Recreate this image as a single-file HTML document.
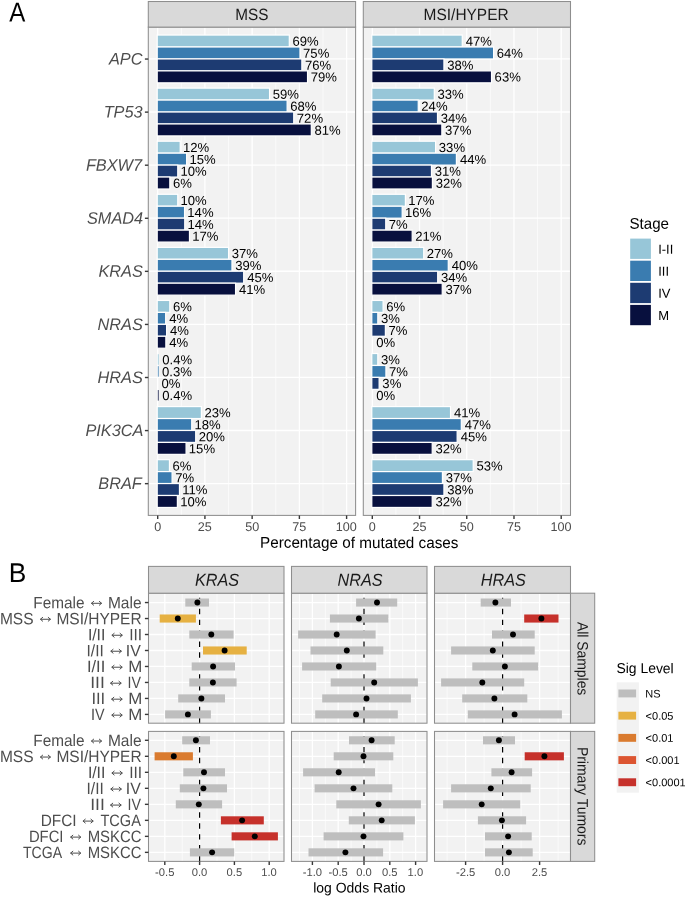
<!DOCTYPE html>
<html><head><meta charset="utf-8"><style>
html,body{margin:0;padding:0;background:#fff;overflow:hidden;}
svg{display:block;will-change:transform;text-rendering:geometricPrecision;font-family:'Liberation Sans',sans-serif;}
</style></head><body>
<svg width="685" height="897" viewBox="0 0 685 897">
<rect x="0" y="0" width="685" height="897" fill="#fff"/>
<text transform="rotate(0.05 9.30 21.50)" x="9.30" y="21.50" font-size="27.30" fill="#000" textLength="16.05" lengthAdjust="spacingAndGlyphs">A</text>
<rect x="148.30" y="27.10" width="207.30" height="488.30" fill="#f2f2f2" />
<line x1="181.31" y1="27.10" x2="181.31" y2="515.40" stroke="#fff" stroke-width="0.65" />
<line x1="228.54" y1="27.10" x2="228.54" y2="515.40" stroke="#fff" stroke-width="0.65" />
<line x1="275.76" y1="27.10" x2="275.76" y2="515.40" stroke="#fff" stroke-width="0.65" />
<line x1="322.99" y1="27.10" x2="322.99" y2="515.40" stroke="#fff" stroke-width="0.65" />
<line x1="157.70" y1="27.10" x2="157.70" y2="515.40" stroke="#fff" stroke-width="1.3" />
<line x1="204.92" y1="27.10" x2="204.92" y2="515.40" stroke="#fff" stroke-width="1.3" />
<line x1="252.15" y1="27.10" x2="252.15" y2="515.40" stroke="#fff" stroke-width="1.3" />
<line x1="299.38" y1="27.10" x2="299.38" y2="515.40" stroke="#fff" stroke-width="1.3" />
<line x1="346.60" y1="27.10" x2="346.60" y2="515.40" stroke="#fff" stroke-width="1.3" />
<line x1="148.30" y1="58.95" x2="355.60" y2="58.95" stroke="#fff" stroke-width="1.3" />
<line x1="148.30" y1="112.02" x2="355.60" y2="112.02" stroke="#fff" stroke-width="1.3" />
<line x1="148.30" y1="165.10" x2="355.60" y2="165.10" stroke="#fff" stroke-width="1.3" />
<line x1="148.30" y1="218.17" x2="355.60" y2="218.17" stroke="#fff" stroke-width="1.3" />
<line x1="148.30" y1="271.25" x2="355.60" y2="271.25" stroke="#fff" stroke-width="1.3" />
<line x1="148.30" y1="324.33" x2="355.60" y2="324.33" stroke="#fff" stroke-width="1.3" />
<line x1="148.30" y1="377.40" x2="355.60" y2="377.40" stroke="#fff" stroke-width="1.3" />
<line x1="148.30" y1="430.48" x2="355.60" y2="430.48" stroke="#fff" stroke-width="1.3" />
<line x1="148.30" y1="483.55" x2="355.60" y2="483.55" stroke="#fff" stroke-width="1.3" />
<rect x="157.20" y="35.06" width="132.10" height="11.94" fill="#97c6d8" stroke="#fff" stroke-width="1.2"/>
<text transform="rotate(0.05 292.40 45.78)" x="292.40" y="45.78" font-size="13.10" fill="#000" textLength="26.22" lengthAdjust="spacingAndGlyphs">69%</text>
<rect x="157.20" y="47.00" width="142.78" height="11.94" fill="#3a7cb0" stroke="#fff" stroke-width="1.2"/>
<text transform="rotate(0.05 303.07 57.72)" x="303.07" y="57.72" font-size="13.10" fill="#000" textLength="26.22" lengthAdjust="spacingAndGlyphs">75%</text>
<rect x="157.20" y="58.95" width="144.66" height="11.94" fill="#1d3b72" stroke="#fff" stroke-width="1.2"/>
<text transform="rotate(0.05 304.96 69.67)" x="304.96" y="69.67" font-size="13.10" fill="#000" textLength="26.22" lengthAdjust="spacingAndGlyphs">76%</text>
<rect x="157.20" y="70.89" width="150.33" height="11.94" fill="#08103e" stroke="#fff" stroke-width="1.2"/>
<text transform="rotate(0.05 310.63 81.61)" x="310.63" y="81.61" font-size="13.10" fill="#000" textLength="26.22" lengthAdjust="spacingAndGlyphs">79%</text>
<rect x="157.20" y="88.14" width="112.36" height="11.94" fill="#97c6d8" stroke="#fff" stroke-width="1.2"/>
<text transform="rotate(0.05 272.79 98.86)" x="272.79" y="98.86" font-size="13.10" fill="#000" textLength="26.22" lengthAdjust="spacingAndGlyphs">59%</text>
<rect x="157.20" y="100.08" width="129.93" height="11.94" fill="#3a7cb0" stroke="#fff" stroke-width="1.2"/>
<text transform="rotate(0.05 290.22 110.80)" x="290.22" y="110.80" font-size="13.10" fill="#000" textLength="26.22" lengthAdjust="spacingAndGlyphs">68%</text>
<rect x="157.20" y="112.02" width="136.54" height="11.94" fill="#1d3b72" stroke="#fff" stroke-width="1.2"/>
<text transform="rotate(0.05 296.84 122.74)" x="296.84" y="122.74" font-size="13.10" fill="#000" textLength="26.22" lengthAdjust="spacingAndGlyphs">72%</text>
<rect x="157.20" y="123.96" width="154.11" height="11.94" fill="#08103e" stroke="#fff" stroke-width="1.2"/>
<text transform="rotate(0.05 314.47 134.68)" x="314.47" y="134.68" font-size="13.10" fill="#000" textLength="26.22" lengthAdjust="spacingAndGlyphs">81%</text>
<rect x="157.20" y="141.21" width="23.01" height="11.94" fill="#97c6d8" stroke="#fff" stroke-width="1.2"/>
<text transform="rotate(0.05 182.98 151.93)" x="182.98" y="151.93" font-size="13.10" fill="#000" textLength="26.22" lengthAdjust="spacingAndGlyphs">12%</text>
<rect x="157.20" y="153.16" width="29.44" height="11.94" fill="#3a7cb0" stroke="#fff" stroke-width="1.2"/>
<text transform="rotate(0.05 189.40 163.88)" x="189.40" y="163.88" font-size="13.10" fill="#000" textLength="26.22" lengthAdjust="spacingAndGlyphs">15%</text>
<rect x="157.20" y="165.10" width="20.56" height="11.94" fill="#1d3b72" stroke="#fff" stroke-width="1.2"/>
<text transform="rotate(0.05 180.52 175.82)" x="180.52" y="175.82" font-size="13.10" fill="#000" textLength="26.22" lengthAdjust="spacingAndGlyphs">10%</text>
<rect x="157.20" y="177.04" width="12.62" height="11.94" fill="#08103e" stroke="#fff" stroke-width="1.2"/>
<text transform="rotate(0.05 172.92 187.76)" x="172.92" y="187.76" font-size="13.10" fill="#000" textLength="18.93" lengthAdjust="spacingAndGlyphs">6%</text>
<rect x="157.20" y="194.29" width="20.56" height="11.94" fill="#97c6d8" stroke="#fff" stroke-width="1.2"/>
<text transform="rotate(0.05 180.52 205.01)" x="180.52" y="205.01" font-size="13.10" fill="#000" textLength="26.22" lengthAdjust="spacingAndGlyphs">10%</text>
<rect x="157.20" y="206.23" width="27.36" height="11.94" fill="#3a7cb0" stroke="#fff" stroke-width="1.2"/>
<text transform="rotate(0.05 187.32 216.95)" x="187.32" y="216.95" font-size="13.10" fill="#000" textLength="26.22" lengthAdjust="spacingAndGlyphs">14%</text>
<rect x="157.20" y="218.17" width="27.55" height="11.94" fill="#1d3b72" stroke="#fff" stroke-width="1.2"/>
<text transform="rotate(0.05 187.51 228.89)" x="187.51" y="228.89" font-size="13.10" fill="#000" textLength="26.22" lengthAdjust="spacingAndGlyphs">14%</text>
<rect x="157.20" y="230.12" width="32.27" height="11.94" fill="#08103e" stroke="#fff" stroke-width="1.2"/>
<text transform="rotate(0.05 192.24 240.84)" x="192.24" y="240.84" font-size="13.10" fill="#000" textLength="26.22" lengthAdjust="spacingAndGlyphs">17%</text>
<rect x="157.20" y="247.37" width="71.37" height="11.94" fill="#97c6d8" stroke="#fff" stroke-width="1.2"/>
<text transform="rotate(0.05 231.80 258.09)" x="231.80" y="258.09" font-size="13.10" fill="#000" textLength="26.22" lengthAdjust="spacingAndGlyphs">37%</text>
<rect x="157.20" y="259.31" width="74.77" height="11.94" fill="#3a7cb0" stroke="#fff" stroke-width="1.2"/>
<text transform="rotate(0.05 235.20 270.03)" x="235.20" y="270.03" font-size="13.10" fill="#000" textLength="26.22" lengthAdjust="spacingAndGlyphs">39%</text>
<rect x="157.20" y="271.25" width="86.48" height="11.94" fill="#1d3b72" stroke="#fff" stroke-width="1.2"/>
<text transform="rotate(0.05 247.17 281.97)" x="247.17" y="281.97" font-size="13.10" fill="#000" textLength="26.22" lengthAdjust="spacingAndGlyphs">45%</text>
<rect x="157.20" y="283.19" width="78.36" height="11.94" fill="#08103e" stroke="#fff" stroke-width="1.2"/>
<text transform="rotate(0.05 239.05 293.91)" x="239.05" y="293.91" font-size="13.10" fill="#000" textLength="26.22" lengthAdjust="spacingAndGlyphs">41%</text>
<rect x="157.20" y="300.44" width="12.62" height="11.94" fill="#97c6d8" stroke="#fff" stroke-width="1.2"/>
<text transform="rotate(0.05 172.92 311.16)" x="172.92" y="311.16" font-size="13.10" fill="#000" textLength="18.93" lengthAdjust="spacingAndGlyphs">6%</text>
<rect x="157.20" y="312.38" width="8.47" height="11.94" fill="#3a7cb0" stroke="#fff" stroke-width="1.2"/>
<text transform="rotate(0.05 169.16 323.11)" x="169.16" y="323.11" font-size="13.10" fill="#000" textLength="18.93" lengthAdjust="spacingAndGlyphs">4%</text>
<rect x="157.20" y="324.33" width="9.41" height="11.94" fill="#1d3b72" stroke="#fff" stroke-width="1.2"/>
<text transform="rotate(0.05 170.10 335.05)" x="170.10" y="335.05" font-size="13.10" fill="#000" textLength="18.93" lengthAdjust="spacingAndGlyphs">4%</text>
<rect x="157.20" y="336.27" width="8.66" height="11.94" fill="#08103e" stroke="#fff" stroke-width="1.2"/>
<text transform="rotate(0.05 169.34 346.99)" x="169.34" y="346.99" font-size="13.10" fill="#000" textLength="18.93" lengthAdjust="spacingAndGlyphs">4%</text>
<rect x="157.80" y="354.22" width="1.00" height="10.54" fill="#97c6d8" opacity="0.75"/>
<text transform="rotate(0.05 162.28 364.24)" x="162.28" y="364.24" font-size="13.10" fill="#000" textLength="29.86" lengthAdjust="spacingAndGlyphs">0.4%</text>
<rect x="157.80" y="366.16" width="1.00" height="10.54" fill="#3a7cb0" opacity="0.75"/>
<text transform="rotate(0.05 162.09 376.18)" x="162.09" y="376.18" font-size="13.10" fill="#000" textLength="29.86" lengthAdjust="spacingAndGlyphs">0.3%</text>
<text transform="rotate(0.05 161.53 388.12)" x="161.53" y="388.12" font-size="13.10" fill="#000" textLength="18.93" lengthAdjust="spacingAndGlyphs">0%</text>
<rect x="157.80" y="390.04" width="1.00" height="10.54" fill="#08103e" opacity="0.75"/>
<text transform="rotate(0.05 162.28 400.07)" x="162.28" y="400.07" font-size="13.10" fill="#000" textLength="29.86" lengthAdjust="spacingAndGlyphs">0.4%</text>
<rect x="157.20" y="406.59" width="44.17" height="11.94" fill="#97c6d8" stroke="#fff" stroke-width="1.2"/>
<text transform="rotate(0.05 204.46 417.32)" x="204.46" y="417.32" font-size="13.10" fill="#000" textLength="26.22" lengthAdjust="spacingAndGlyphs">23%</text>
<rect x="157.20" y="418.54" width="34.54" height="11.94" fill="#3a7cb0" stroke="#fff" stroke-width="1.2"/>
<text transform="rotate(0.05 194.50 429.26)" x="194.50" y="429.26" font-size="13.10" fill="#000" textLength="26.22" lengthAdjust="spacingAndGlyphs">18%</text>
<rect x="157.20" y="430.48" width="38.50" height="11.94" fill="#1d3b72" stroke="#fff" stroke-width="1.2"/>
<text transform="rotate(0.05 198.80 441.20)" x="198.80" y="441.20" font-size="13.10" fill="#000" textLength="26.22" lengthAdjust="spacingAndGlyphs">20%</text>
<rect x="157.20" y="442.42" width="28.87" height="11.94" fill="#08103e" stroke="#fff" stroke-width="1.2"/>
<text transform="rotate(0.05 188.84 453.14)" x="188.84" y="453.14" font-size="13.10" fill="#000" textLength="26.22" lengthAdjust="spacingAndGlyphs">15%</text>
<rect x="157.20" y="459.67" width="12.25" height="11.94" fill="#97c6d8" stroke="#fff" stroke-width="1.2"/>
<text transform="rotate(0.05 172.54 470.39)" x="172.54" y="470.39" font-size="13.10" fill="#000" textLength="18.93" lengthAdjust="spacingAndGlyphs">6%</text>
<rect x="157.20" y="471.61" width="14.89" height="11.94" fill="#3a7cb0" stroke="#fff" stroke-width="1.2"/>
<text transform="rotate(0.05 175.18 482.33)" x="175.18" y="482.33" font-size="13.10" fill="#000" textLength="18.93" lengthAdjust="spacingAndGlyphs">7%</text>
<rect x="157.20" y="483.55" width="22.26" height="11.94" fill="#1d3b72" stroke="#fff" stroke-width="1.2"/>
<text transform="rotate(0.05 182.22 494.28)" x="182.22" y="494.28" font-size="13.10" fill="#000" textLength="25.25" lengthAdjust="spacingAndGlyphs">11%</text>
<rect x="157.20" y="495.50" width="20.18" height="11.94" fill="#08103e" stroke="#fff" stroke-width="1.2"/>
<text transform="rotate(0.05 180.15 506.22)" x="180.15" y="506.22" font-size="13.10" fill="#000" textLength="26.22" lengthAdjust="spacingAndGlyphs">10%</text>
<rect x="148.30" y="27.10" width="207.30" height="488.30" fill="none" stroke="#8e8e8e" stroke-width="1.05"/>
<rect x="148.30" y="1.5" width="207.30" height="25.60" fill="#d9d9d9" stroke="#8e8e8e" stroke-width="1.05"/>
<text transform="rotate(0.05 235.23 20.05)" x="235.23" y="20.05" font-size="16.32" fill="#1a1a1a" textLength="33.14" lengthAdjust="spacingAndGlyphs">MSS</text>
<line x1="157.70" y1="515.40" x2="157.70" y2="519.00" stroke="#383838" stroke-width="1.4" />
<text transform="rotate(0.05 154.17 531.00)" x="154.17" y="531.00" font-size="12.60" fill="#4d4d4d" textLength="7.01" lengthAdjust="spacingAndGlyphs">0</text>
<line x1="204.92" y1="515.40" x2="204.92" y2="519.00" stroke="#383838" stroke-width="1.4" />
<text transform="rotate(0.05 197.87 531.00)" x="197.87" y="531.00" font-size="12.60" fill="#4d4d4d" textLength="14.02" lengthAdjust="spacingAndGlyphs">25</text>
<line x1="252.15" y1="515.40" x2="252.15" y2="519.00" stroke="#383838" stroke-width="1.4" />
<text transform="rotate(0.05 245.13 531.00)" x="245.13" y="531.00" font-size="12.60" fill="#4d4d4d" textLength="14.02" lengthAdjust="spacingAndGlyphs">50</text>
<line x1="299.38" y1="515.40" x2="299.38" y2="519.00" stroke="#383838" stroke-width="1.4" />
<text transform="rotate(0.05 292.32 531.00)" x="292.32" y="531.00" font-size="12.60" fill="#4d4d4d" textLength="14.02" lengthAdjust="spacingAndGlyphs">75</text>
<line x1="346.60" y1="515.40" x2="346.60" y2="519.00" stroke="#383838" stroke-width="1.4" />
<text transform="rotate(0.05 335.86 531.00)" x="335.86" y="531.00" font-size="12.60" fill="#4d4d4d" textLength="21.02" lengthAdjust="spacingAndGlyphs">100</text>
<rect x="363.30" y="27.10" width="207.20" height="488.30" fill="#f2f2f2" />
<line x1="395.91" y1="27.10" x2="395.91" y2="515.40" stroke="#fff" stroke-width="0.65" />
<line x1="443.14" y1="27.10" x2="443.14" y2="515.40" stroke="#fff" stroke-width="0.65" />
<line x1="490.36" y1="27.10" x2="490.36" y2="515.40" stroke="#fff" stroke-width="0.65" />
<line x1="537.59" y1="27.10" x2="537.59" y2="515.40" stroke="#fff" stroke-width="0.65" />
<line x1="372.30" y1="27.10" x2="372.30" y2="515.40" stroke="#fff" stroke-width="1.3" />
<line x1="419.53" y1="27.10" x2="419.53" y2="515.40" stroke="#fff" stroke-width="1.3" />
<line x1="466.75" y1="27.10" x2="466.75" y2="515.40" stroke="#fff" stroke-width="1.3" />
<line x1="513.98" y1="27.10" x2="513.98" y2="515.40" stroke="#fff" stroke-width="1.3" />
<line x1="561.20" y1="27.10" x2="561.20" y2="515.40" stroke="#fff" stroke-width="1.3" />
<line x1="363.30" y1="58.95" x2="570.50" y2="58.95" stroke="#fff" stroke-width="1.3" />
<line x1="363.30" y1="112.02" x2="570.50" y2="112.02" stroke="#fff" stroke-width="1.3" />
<line x1="363.30" y1="165.10" x2="570.50" y2="165.10" stroke="#fff" stroke-width="1.3" />
<line x1="363.30" y1="218.17" x2="570.50" y2="218.17" stroke="#fff" stroke-width="1.3" />
<line x1="363.30" y1="271.25" x2="570.50" y2="271.25" stroke="#fff" stroke-width="1.3" />
<line x1="363.30" y1="324.33" x2="570.50" y2="324.33" stroke="#fff" stroke-width="1.3" />
<line x1="363.30" y1="377.40" x2="570.50" y2="377.40" stroke="#fff" stroke-width="1.3" />
<line x1="363.30" y1="430.48" x2="570.50" y2="430.48" stroke="#fff" stroke-width="1.3" />
<line x1="363.30" y1="483.55" x2="570.50" y2="483.55" stroke="#fff" stroke-width="1.3" />
<rect x="371.80" y="35.06" width="90.45" height="11.94" fill="#97c6d8" stroke="#fff" stroke-width="1.2"/>
<text transform="rotate(0.05 465.74 45.78)" x="465.74" y="45.78" font-size="13.10" fill="#000" textLength="26.22" lengthAdjust="spacingAndGlyphs">47%</text>
<rect x="371.80" y="47.00" width="121.81" height="11.94" fill="#3a7cb0" stroke="#fff" stroke-width="1.2"/>
<text transform="rotate(0.05 496.70 57.72)" x="496.70" y="57.72" font-size="13.10" fill="#000" textLength="26.22" lengthAdjust="spacingAndGlyphs">64%</text>
<rect x="371.80" y="58.95" width="72.13" height="11.94" fill="#1d3b72" stroke="#fff" stroke-width="1.2"/>
<text transform="rotate(0.05 447.15 69.67)" x="447.15" y="69.67" font-size="13.10" fill="#000" textLength="26.22" lengthAdjust="spacingAndGlyphs">38%</text>
<rect x="371.80" y="70.89" width="119.73" height="11.94" fill="#08103e" stroke="#fff" stroke-width="1.2"/>
<text transform="rotate(0.05 494.62 81.61)" x="494.62" y="81.61" font-size="13.10" fill="#000" textLength="26.22" lengthAdjust="spacingAndGlyphs">63%</text>
<rect x="371.80" y="88.14" width="62.49" height="11.94" fill="#97c6d8" stroke="#fff" stroke-width="1.2"/>
<text transform="rotate(0.05 437.52 98.86)" x="437.52" y="98.86" font-size="13.10" fill="#000" textLength="26.22" lengthAdjust="spacingAndGlyphs">33%</text>
<rect x="371.80" y="100.08" width="46.44" height="11.94" fill="#3a7cb0" stroke="#fff" stroke-width="1.2"/>
<text transform="rotate(0.05 421.33 110.80)" x="421.33" y="110.80" font-size="13.10" fill="#000" textLength="26.22" lengthAdjust="spacingAndGlyphs">24%</text>
<rect x="371.80" y="112.02" width="65.70" height="11.94" fill="#1d3b72" stroke="#fff" stroke-width="1.2"/>
<text transform="rotate(0.05 440.73 122.74)" x="440.73" y="122.74" font-size="13.10" fill="#000" textLength="26.22" lengthAdjust="spacingAndGlyphs">34%</text>
<rect x="371.80" y="123.96" width="70.05" height="11.94" fill="#08103e" stroke="#fff" stroke-width="1.2"/>
<text transform="rotate(0.05 445.07 134.68)" x="445.07" y="134.68" font-size="13.10" fill="#000" textLength="26.22" lengthAdjust="spacingAndGlyphs">37%</text>
<rect x="371.80" y="141.21" width="63.81" height="11.94" fill="#97c6d8" stroke="#fff" stroke-width="1.2"/>
<text transform="rotate(0.05 438.84 151.93)" x="438.84" y="151.93" font-size="13.10" fill="#000" textLength="26.22" lengthAdjust="spacingAndGlyphs">33%</text>
<rect x="371.80" y="153.16" width="84.59" height="11.94" fill="#3a7cb0" stroke="#fff" stroke-width="1.2"/>
<text transform="rotate(0.05 459.88 163.88)" x="459.88" y="163.88" font-size="13.10" fill="#000" textLength="26.22" lengthAdjust="spacingAndGlyphs">44%</text>
<rect x="371.80" y="165.10" width="59.66" height="11.94" fill="#1d3b72" stroke="#fff" stroke-width="1.2"/>
<text transform="rotate(0.05 434.69 175.82)" x="434.69" y="175.82" font-size="13.10" fill="#000" textLength="26.22" lengthAdjust="spacingAndGlyphs">31%</text>
<rect x="371.80" y="177.04" width="60.60" height="11.94" fill="#08103e" stroke="#fff" stroke-width="1.2"/>
<text transform="rotate(0.05 435.63 187.76)" x="435.63" y="187.76" font-size="13.10" fill="#000" textLength="26.22" lengthAdjust="spacingAndGlyphs">32%</text>
<rect x="371.80" y="194.29" width="33.59" height="11.94" fill="#97c6d8" stroke="#fff" stroke-width="1.2"/>
<text transform="rotate(0.05 408.16 205.01)" x="408.16" y="205.01" font-size="13.10" fill="#000" textLength="26.22" lengthAdjust="spacingAndGlyphs">17%</text>
<rect x="371.80" y="206.23" width="30.38" height="11.94" fill="#3a7cb0" stroke="#fff" stroke-width="1.2"/>
<text transform="rotate(0.05 404.95 216.95)" x="404.95" y="216.95" font-size="13.10" fill="#000" textLength="26.22" lengthAdjust="spacingAndGlyphs">16%</text>
<rect x="371.80" y="218.17" width="13.95" height="11.94" fill="#1d3b72" stroke="#fff" stroke-width="1.2"/>
<text transform="rotate(0.05 388.84 228.89)" x="388.84" y="228.89" font-size="13.10" fill="#000" textLength="18.93" lengthAdjust="spacingAndGlyphs">7%</text>
<rect x="371.80" y="230.12" width="40.39" height="11.94" fill="#08103e" stroke="#fff" stroke-width="1.2"/>
<text transform="rotate(0.05 415.29 240.84)" x="415.29" y="240.84" font-size="13.10" fill="#000" textLength="26.22" lengthAdjust="spacingAndGlyphs">21%</text>
<rect x="371.80" y="247.37" width="51.91" height="11.94" fill="#97c6d8" stroke="#fff" stroke-width="1.2"/>
<text transform="rotate(0.05 426.81 258.09)" x="426.81" y="258.09" font-size="13.10" fill="#000" textLength="26.22" lengthAdjust="spacingAndGlyphs">27%</text>
<rect x="371.80" y="259.31" width="76.47" height="11.94" fill="#3a7cb0" stroke="#fff" stroke-width="1.2"/>
<text transform="rotate(0.05 451.76 270.03)" x="451.76" y="270.03" font-size="13.10" fill="#000" textLength="26.22" lengthAdjust="spacingAndGlyphs">40%</text>
<rect x="371.80" y="271.25" width="65.89" height="11.94" fill="#1d3b72" stroke="#fff" stroke-width="1.2"/>
<text transform="rotate(0.05 440.92 281.97)" x="440.92" y="281.97" font-size="13.10" fill="#000" textLength="26.22" lengthAdjust="spacingAndGlyphs">34%</text>
<rect x="371.80" y="283.19" width="70.43" height="11.94" fill="#08103e" stroke="#fff" stroke-width="1.2"/>
<text transform="rotate(0.05 445.45 293.91)" x="445.45" y="293.91" font-size="13.10" fill="#000" textLength="26.22" lengthAdjust="spacingAndGlyphs">37%</text>
<rect x="371.80" y="300.44" width="11.30" height="11.94" fill="#97c6d8" stroke="#fff" stroke-width="1.2"/>
<text transform="rotate(0.05 386.20 311.16)" x="386.20" y="311.16" font-size="13.10" fill="#000" textLength="18.93" lengthAdjust="spacingAndGlyphs">6%</text>
<rect x="371.80" y="312.38" width="6.01" height="11.94" fill="#3a7cb0" stroke="#fff" stroke-width="1.2"/>
<text transform="rotate(0.05 381.04 323.11)" x="381.04" y="323.11" font-size="13.10" fill="#000" textLength="18.93" lengthAdjust="spacingAndGlyphs">3%</text>
<rect x="371.80" y="324.33" width="13.57" height="11.94" fill="#1d3b72" stroke="#fff" stroke-width="1.2"/>
<text transform="rotate(0.05 388.46 335.05)" x="388.46" y="335.05" font-size="13.10" fill="#000" textLength="18.93" lengthAdjust="spacingAndGlyphs">7%</text>
<text transform="rotate(0.05 376.13 346.99)" x="376.13" y="346.99" font-size="13.10" fill="#000" textLength="18.93" lengthAdjust="spacingAndGlyphs">0%</text>
<rect x="371.80" y="353.52" width="6.01" height="11.94" fill="#97c6d8" stroke="#fff" stroke-width="1.2"/>
<text transform="rotate(0.05 381.04 364.24)" x="381.04" y="364.24" font-size="13.10" fill="#000" textLength="18.93" lengthAdjust="spacingAndGlyphs">3%</text>
<rect x="371.80" y="365.46" width="14.13" height="11.94" fill="#3a7cb0" stroke="#fff" stroke-width="1.2"/>
<text transform="rotate(0.05 389.03 376.18)" x="389.03" y="376.18" font-size="13.10" fill="#000" textLength="18.93" lengthAdjust="spacingAndGlyphs">7%</text>
<rect x="371.80" y="377.40" width="7.33" height="11.94" fill="#1d3b72" stroke="#fff" stroke-width="1.2"/>
<text transform="rotate(0.05 382.36 388.12)" x="382.36" y="388.12" font-size="13.10" fill="#000" textLength="18.93" lengthAdjust="spacingAndGlyphs">3%</text>
<text transform="rotate(0.05 376.13 400.07)" x="376.13" y="400.07" font-size="13.10" fill="#000" textLength="18.93" lengthAdjust="spacingAndGlyphs">0%</text>
<rect x="371.80" y="406.59" width="78.74" height="11.94" fill="#97c6d8" stroke="#fff" stroke-width="1.2"/>
<text transform="rotate(0.05 454.03 417.32)" x="454.03" y="417.32" font-size="13.10" fill="#000" textLength="26.22" lengthAdjust="spacingAndGlyphs">41%</text>
<rect x="371.80" y="418.54" width="89.51" height="11.94" fill="#3a7cb0" stroke="#fff" stroke-width="1.2"/>
<text transform="rotate(0.05 464.79 429.26)" x="464.79" y="429.26" font-size="13.10" fill="#000" textLength="26.22" lengthAdjust="spacingAndGlyphs">47%</text>
<rect x="371.80" y="430.48" width="85.35" height="11.94" fill="#1d3b72" stroke="#fff" stroke-width="1.2"/>
<text transform="rotate(0.05 460.64 441.20)" x="460.64" y="441.20" font-size="13.10" fill="#000" textLength="26.22" lengthAdjust="spacingAndGlyphs">45%</text>
<rect x="371.80" y="442.42" width="60.41" height="11.94" fill="#08103e" stroke="#fff" stroke-width="1.2"/>
<text transform="rotate(0.05 435.44 453.14)" x="435.44" y="453.14" font-size="13.10" fill="#000" textLength="26.22" lengthAdjust="spacingAndGlyphs">32%</text>
<rect x="371.80" y="459.67" width="101.41" height="11.94" fill="#97c6d8" stroke="#fff" stroke-width="1.2"/>
<text transform="rotate(0.05 476.43 470.39)" x="476.43" y="470.39" font-size="13.10" fill="#000" textLength="26.22" lengthAdjust="spacingAndGlyphs">53%</text>
<rect x="371.80" y="471.61" width="70.62" height="11.94" fill="#3a7cb0" stroke="#fff" stroke-width="1.2"/>
<text transform="rotate(0.05 445.64 482.33)" x="445.64" y="482.33" font-size="13.10" fill="#000" textLength="26.22" lengthAdjust="spacingAndGlyphs">37%</text>
<rect x="371.80" y="483.55" width="72.13" height="11.94" fill="#1d3b72" stroke="#fff" stroke-width="1.2"/>
<text transform="rotate(0.05 447.15 494.28)" x="447.15" y="494.28" font-size="13.10" fill="#000" textLength="26.22" lengthAdjust="spacingAndGlyphs">38%</text>
<rect x="371.80" y="495.50" width="60.41" height="11.94" fill="#08103e" stroke="#fff" stroke-width="1.2"/>
<text transform="rotate(0.05 435.44 506.22)" x="435.44" y="506.22" font-size="13.10" fill="#000" textLength="26.22" lengthAdjust="spacingAndGlyphs">32%</text>
<rect x="363.30" y="27.10" width="207.20" height="488.30" fill="none" stroke="#8e8e8e" stroke-width="1.05"/>
<rect x="363.30" y="1.5" width="207.20" height="25.60" fill="#d9d9d9" stroke="#8e8e8e" stroke-width="1.05"/>
<text transform="rotate(0.05 423.61 20.05)" x="423.61" y="20.05" font-size="16.32" fill="#1a1a1a" textLength="85.05" lengthAdjust="spacingAndGlyphs">MSI/HYPER</text>
<line x1="372.30" y1="515.40" x2="372.30" y2="519.00" stroke="#383838" stroke-width="1.4" />
<text transform="rotate(0.05 368.77 531.00)" x="368.77" y="531.00" font-size="12.60" fill="#4d4d4d" textLength="7.01" lengthAdjust="spacingAndGlyphs">0</text>
<line x1="419.53" y1="515.40" x2="419.53" y2="519.00" stroke="#383838" stroke-width="1.4" />
<text transform="rotate(0.05 412.47 531.00)" x="412.47" y="531.00" font-size="12.60" fill="#4d4d4d" textLength="14.02" lengthAdjust="spacingAndGlyphs">25</text>
<line x1="466.75" y1="515.40" x2="466.75" y2="519.00" stroke="#383838" stroke-width="1.4" />
<text transform="rotate(0.05 459.73 531.00)" x="459.73" y="531.00" font-size="12.60" fill="#4d4d4d" textLength="14.02" lengthAdjust="spacingAndGlyphs">50</text>
<line x1="513.98" y1="515.40" x2="513.98" y2="519.00" stroke="#383838" stroke-width="1.4" />
<text transform="rotate(0.05 506.92 531.00)" x="506.92" y="531.00" font-size="12.60" fill="#4d4d4d" textLength="14.02" lengthAdjust="spacingAndGlyphs">75</text>
<line x1="561.20" y1="515.40" x2="561.20" y2="519.00" stroke="#383838" stroke-width="1.4" />
<text transform="rotate(0.05 550.46 531.00)" x="550.46" y="531.00" font-size="12.60" fill="#4d4d4d" textLength="21.02" lengthAdjust="spacingAndGlyphs">100</text>
<line x1="144.90" y1="59.05" x2="148.30" y2="59.05" stroke="#383838" stroke-width="1.4" />
<text transform="rotate(0.05 108.97 64.50)" x="108.97" y="64.50" font-size="16.63" fill="#4d4d4d" font-style="italic" textLength="33.52" lengthAdjust="spacingAndGlyphs">APC</text>
<line x1="144.90" y1="112.12" x2="148.30" y2="112.12" stroke="#383838" stroke-width="1.4" />
<text transform="rotate(0.05 103.67 117.57)" x="103.67" y="117.57" font-size="16.63" fill="#4d4d4d" font-style="italic" textLength="38.96" lengthAdjust="spacingAndGlyphs">TP53</text>
<line x1="144.90" y1="165.20" x2="148.30" y2="165.20" stroke="#383838" stroke-width="1.4" />
<text transform="rotate(0.05 85.91 170.65)" x="85.91" y="170.65" font-size="16.63" fill="#4d4d4d" font-style="italic" textLength="56.15" lengthAdjust="spacingAndGlyphs">FBXW7</text>
<line x1="144.90" y1="218.27" x2="148.30" y2="218.27" stroke="#383838" stroke-width="1.4" />
<text transform="rotate(0.05 86.97 223.72)" x="86.97" y="223.72" font-size="16.63" fill="#4d4d4d" font-style="italic" textLength="56.16" lengthAdjust="spacingAndGlyphs">SMAD4</text>
<line x1="144.90" y1="271.35" x2="148.30" y2="271.35" stroke="#383838" stroke-width="1.4" />
<text transform="rotate(0.05 98.38 276.80)" x="98.38" y="276.80" font-size="16.63" fill="#4d4d4d" font-style="italic" textLength="44.39" lengthAdjust="spacingAndGlyphs">KRAS</text>
<line x1="144.90" y1="324.43" x2="148.30" y2="324.43" stroke="#383838" stroke-width="1.4" />
<text transform="rotate(0.05 97.48 329.88)" x="97.48" y="329.88" font-size="16.63" fill="#4d4d4d" font-style="italic" textLength="45.29" lengthAdjust="spacingAndGlyphs">NRAS</text>
<line x1="144.90" y1="377.50" x2="148.30" y2="377.50" stroke="#383838" stroke-width="1.4" />
<text transform="rotate(0.05 97.48 382.95)" x="97.48" y="382.95" font-size="16.63" fill="#4d4d4d" font-style="italic" textLength="45.29" lengthAdjust="spacingAndGlyphs">HRAS</text>
<line x1="144.90" y1="430.58" x2="148.30" y2="430.58" stroke="#383838" stroke-width="1.4" />
<text transform="rotate(0.05 85.42 436.03)" x="85.42" y="436.03" font-size="16.63" fill="#4d4d4d" font-style="italic" textLength="57.98" lengthAdjust="spacingAndGlyphs">PIK3CA</text>
<line x1="144.90" y1="483.65" x2="148.30" y2="483.65" stroke="#383838" stroke-width="1.4" />
<text transform="rotate(0.05 98.30 489.10)" x="98.30" y="489.10" font-size="16.63" fill="#4d4d4d" font-style="italic" textLength="43.47" lengthAdjust="spacingAndGlyphs">BRAF</text>
<text transform="rotate(0.05 260.03 547.80)" x="260.03" y="547.80" font-size="15.66" fill="#000" textLength="198.42" lengthAdjust="spacingAndGlyphs">Percentage of mutated cases</text>
<text transform="rotate(0.05 629.47 228.80)" x="629.47" y="228.80" font-size="15.50" fill="#000" textLength="39.51" lengthAdjust="spacingAndGlyphs">Stage</text>
<rect x="630.20" y="238.60" width="20.70" height="20.30" fill="#97c6d8" />
<text transform="rotate(0.05 658.18 253.65)" x="658.18" y="253.65" font-size="13.00" fill="#000" textLength="15.16" lengthAdjust="spacingAndGlyphs">I-II</text>
<rect x="630.20" y="260.70" width="20.70" height="20.30" fill="#3a7cb0" />
<text transform="rotate(0.05 658.18 275.75)" x="658.18" y="275.75" font-size="13.00" fill="#000" textLength="10.83" lengthAdjust="spacingAndGlyphs">III</text>
<rect x="630.20" y="282.80" width="20.70" height="20.30" fill="#1d3b72" />
<text transform="rotate(0.05 658.18 297.85)" x="658.18" y="297.85" font-size="13.00" fill="#000" textLength="12.28" lengthAdjust="spacingAndGlyphs">IV</text>
<rect x="630.20" y="304.90" width="20.70" height="20.30" fill="#08103e" />
<text transform="rotate(0.05 658.31 319.95)" x="658.31" y="319.95" font-size="13.00" fill="#000" textLength="10.83" lengthAdjust="spacingAndGlyphs">M</text>
<text transform="rotate(0.05 8.79 581.90)" x="8.79" y="581.90" font-size="27.10" fill="#000" textLength="17.58" lengthAdjust="spacingAndGlyphs">B</text>
<rect x="148.50" y="593.20" width="135.50" height="130.00" fill="#f2f2f2" />
<line x1="182.20" y1="593.20" x2="182.20" y2="723.20" stroke="#fff" stroke-width="0.65" />
<line x1="217.00" y1="593.20" x2="217.00" y2="723.20" stroke="#fff" stroke-width="0.65" />
<line x1="251.80" y1="593.20" x2="251.80" y2="723.20" stroke="#fff" stroke-width="0.65" />
<line x1="164.80" y1="593.20" x2="164.80" y2="723.20" stroke="#fff" stroke-width="1.3" />
<line x1="199.60" y1="593.20" x2="199.60" y2="723.20" stroke="#fff" stroke-width="1.3" />
<line x1="234.40" y1="593.20" x2="234.40" y2="723.20" stroke="#fff" stroke-width="1.3" />
<line x1="269.20" y1="593.20" x2="269.20" y2="723.20" stroke="#fff" stroke-width="1.3" />
<line x1="148.50" y1="602.55" x2="284.00" y2="602.55" stroke="#fff" stroke-width="1.3" />
<line x1="148.50" y1="618.53" x2="284.00" y2="618.53" stroke="#fff" stroke-width="1.3" />
<line x1="148.50" y1="634.51" x2="284.00" y2="634.51" stroke="#fff" stroke-width="1.3" />
<line x1="148.50" y1="650.49" x2="284.00" y2="650.49" stroke="#fff" stroke-width="1.3" />
<line x1="148.50" y1="666.47" x2="284.00" y2="666.47" stroke="#fff" stroke-width="1.3" />
<line x1="148.50" y1="682.45" x2="284.00" y2="682.45" stroke="#fff" stroke-width="1.3" />
<line x1="148.50" y1="698.43" x2="284.00" y2="698.43" stroke="#fff" stroke-width="1.3" />
<line x1="148.50" y1="714.41" x2="284.00" y2="714.41" stroke="#fff" stroke-width="1.3" />
<line x1="199.60" y1="723.20" x2="199.60" y2="593.20" stroke="#000" stroke-width="1.2" stroke-dasharray="5.45 5.45"/>
<rect x="185.30" y="598.50" width="23.70" height="8.10" fill="#bebebe" />
<circle cx="197.40" cy="602.55" r="2.95" fill="#000"/>
<rect x="159.70" y="614.48" width="36.20" height="8.10" fill="#e6b142" />
<circle cx="177.80" cy="618.53" r="2.95" fill="#000"/>
<rect x="189.30" y="630.46" width="44.30" height="8.10" fill="#bebebe" />
<circle cx="211.30" cy="634.51" r="2.95" fill="#000"/>
<rect x="203.00" y="646.44" width="43.70" height="8.10" fill="#e6b142" />
<circle cx="224.60" cy="650.49" r="2.95" fill="#000"/>
<rect x="191.70" y="662.42" width="43.30" height="8.10" fill="#bebebe" />
<circle cx="213.10" cy="666.47" r="2.95" fill="#000"/>
<rect x="189.30" y="678.40" width="47.30" height="8.10" fill="#bebebe" />
<circle cx="212.90" cy="682.45" r="2.95" fill="#000"/>
<rect x="178.20" y="694.38" width="46.80" height="8.10" fill="#bebebe" />
<circle cx="201.40" cy="698.43" r="2.95" fill="#000"/>
<rect x="165.10" y="710.36" width="45.80" height="8.10" fill="#bebebe" />
<circle cx="187.90" cy="714.41" r="2.95" fill="#000"/>
<rect x="148.50" y="593.20" width="135.50" height="130.00" fill="none" stroke="#8e8e8e" stroke-width="1.05"/>
<rect x="291.50" y="593.20" width="135.50" height="130.00" fill="#f2f2f2" />
<line x1="299.50" y1="593.20" x2="299.50" y2="723.20" stroke="#fff" stroke-width="0.65" />
<line x1="325.30" y1="593.20" x2="325.30" y2="723.20" stroke="#fff" stroke-width="0.65" />
<line x1="351.10" y1="593.20" x2="351.10" y2="723.20" stroke="#fff" stroke-width="0.65" />
<line x1="376.90" y1="593.20" x2="376.90" y2="723.20" stroke="#fff" stroke-width="0.65" />
<line x1="402.70" y1="593.20" x2="402.70" y2="723.20" stroke="#fff" stroke-width="0.65" />
<line x1="312.40" y1="593.20" x2="312.40" y2="723.20" stroke="#fff" stroke-width="1.3" />
<line x1="338.20" y1="593.20" x2="338.20" y2="723.20" stroke="#fff" stroke-width="1.3" />
<line x1="364.00" y1="593.20" x2="364.00" y2="723.20" stroke="#fff" stroke-width="1.3" />
<line x1="389.80" y1="593.20" x2="389.80" y2="723.20" stroke="#fff" stroke-width="1.3" />
<line x1="415.60" y1="593.20" x2="415.60" y2="723.20" stroke="#fff" stroke-width="1.3" />
<line x1="291.50" y1="602.55" x2="427.00" y2="602.55" stroke="#fff" stroke-width="1.3" />
<line x1="291.50" y1="618.53" x2="427.00" y2="618.53" stroke="#fff" stroke-width="1.3" />
<line x1="291.50" y1="634.51" x2="427.00" y2="634.51" stroke="#fff" stroke-width="1.3" />
<line x1="291.50" y1="650.49" x2="427.00" y2="650.49" stroke="#fff" stroke-width="1.3" />
<line x1="291.50" y1="666.47" x2="427.00" y2="666.47" stroke="#fff" stroke-width="1.3" />
<line x1="291.50" y1="682.45" x2="427.00" y2="682.45" stroke="#fff" stroke-width="1.3" />
<line x1="291.50" y1="698.43" x2="427.00" y2="698.43" stroke="#fff" stroke-width="1.3" />
<line x1="291.50" y1="714.41" x2="427.00" y2="714.41" stroke="#fff" stroke-width="1.3" />
<line x1="364.00" y1="723.20" x2="364.00" y2="593.20" stroke="#000" stroke-width="1.2" stroke-dasharray="5.45 5.45"/>
<rect x="356.10" y="598.50" width="41.10" height="8.10" fill="#bebebe" />
<circle cx="377.00" cy="602.55" r="2.95" fill="#000"/>
<rect x="329.90" y="614.48" width="58.40" height="8.10" fill="#bebebe" />
<circle cx="358.90" cy="618.53" r="2.95" fill="#000"/>
<rect x="298.10" y="630.46" width="77.50" height="8.10" fill="#bebebe" />
<circle cx="336.70" cy="634.51" r="2.95" fill="#000"/>
<rect x="310.50" y="646.44" width="72.80" height="8.10" fill="#bebebe" />
<circle cx="346.80" cy="650.49" r="2.95" fill="#000"/>
<rect x="302.10" y="662.42" width="74.10" height="8.10" fill="#bebebe" />
<circle cx="338.90" cy="666.47" r="2.95" fill="#000"/>
<rect x="330.70" y="678.40" width="87.20" height="8.10" fill="#bebebe" />
<circle cx="374.20" cy="682.45" r="2.95" fill="#000"/>
<rect x="322.20" y="694.38" width="88.70" height="8.10" fill="#bebebe" />
<circle cx="366.50" cy="698.43" r="2.95" fill="#000"/>
<rect x="315.20" y="710.36" width="82.60" height="8.10" fill="#bebebe" />
<circle cx="356.10" cy="714.41" r="2.95" fill="#000"/>
<rect x="291.50" y="593.20" width="135.50" height="130.00" fill="none" stroke="#8e8e8e" stroke-width="1.05"/>
<rect x="434.50" y="593.20" width="136.00" height="130.00" fill="#f2f2f2" />
<line x1="447.10" y1="593.20" x2="447.10" y2="723.20" stroke="#fff" stroke-width="0.65" />
<line x1="484.10" y1="593.20" x2="484.10" y2="723.20" stroke="#fff" stroke-width="0.65" />
<line x1="521.10" y1="593.20" x2="521.10" y2="723.20" stroke="#fff" stroke-width="0.65" />
<line x1="558.10" y1="593.20" x2="558.10" y2="723.20" stroke="#fff" stroke-width="0.65" />
<line x1="465.60" y1="593.20" x2="465.60" y2="723.20" stroke="#fff" stroke-width="1.3" />
<line x1="502.60" y1="593.20" x2="502.60" y2="723.20" stroke="#fff" stroke-width="1.3" />
<line x1="539.60" y1="593.20" x2="539.60" y2="723.20" stroke="#fff" stroke-width="1.3" />
<line x1="434.50" y1="602.55" x2="570.50" y2="602.55" stroke="#fff" stroke-width="1.3" />
<line x1="434.50" y1="618.53" x2="570.50" y2="618.53" stroke="#fff" stroke-width="1.3" />
<line x1="434.50" y1="634.51" x2="570.50" y2="634.51" stroke="#fff" stroke-width="1.3" />
<line x1="434.50" y1="650.49" x2="570.50" y2="650.49" stroke="#fff" stroke-width="1.3" />
<line x1="434.50" y1="666.47" x2="570.50" y2="666.47" stroke="#fff" stroke-width="1.3" />
<line x1="434.50" y1="682.45" x2="570.50" y2="682.45" stroke="#fff" stroke-width="1.3" />
<line x1="434.50" y1="698.43" x2="570.50" y2="698.43" stroke="#fff" stroke-width="1.3" />
<line x1="434.50" y1="714.41" x2="570.50" y2="714.41" stroke="#fff" stroke-width="1.3" />
<line x1="502.60" y1="723.20" x2="502.60" y2="593.20" stroke="#000" stroke-width="1.2" stroke-dasharray="5.45 5.45"/>
<rect x="480.70" y="598.50" width="30.30" height="8.10" fill="#bebebe" />
<circle cx="495.40" cy="602.55" r="2.95" fill="#000"/>
<rect x="524.20" y="614.48" width="34.30" height="8.10" fill="#c6312b" />
<circle cx="541.40" cy="618.53" r="2.95" fill="#000"/>
<rect x="492.00" y="630.46" width="42.70" height="8.10" fill="#bebebe" />
<circle cx="513.00" cy="634.51" r="2.95" fill="#000"/>
<rect x="451.10" y="646.44" width="83.60" height="8.10" fill="#bebebe" />
<circle cx="492.80" cy="650.49" r="2.95" fill="#000"/>
<rect x="472.30" y="662.42" width="65.80" height="8.10" fill="#bebebe" />
<circle cx="504.90" cy="666.47" r="2.95" fill="#000"/>
<rect x="441.10" y="678.40" width="83.10" height="8.10" fill="#bebebe" />
<circle cx="482.30" cy="682.45" r="2.95" fill="#000"/>
<rect x="462.20" y="694.38" width="65.10" height="8.10" fill="#bebebe" />
<circle cx="494.40" cy="698.43" r="2.95" fill="#000"/>
<rect x="467.80" y="710.36" width="94.10" height="8.10" fill="#bebebe" />
<circle cx="514.60" cy="714.41" r="2.95" fill="#000"/>
<rect x="434.50" y="593.20" width="136.00" height="130.00" fill="none" stroke="#8e8e8e" stroke-width="1.05"/>
<rect x="570.5" y="593.20" width="24.2" height="130.00" fill="#d9d9d9" stroke="#8e8e8e" stroke-width="1.05"/>
<text transform="translate(577.60,622.00) rotate(90.05)" x="0" y="0" font-size="15.08" fill="#1a1a1a" textLength="73.29" lengthAdjust="spacingAndGlyphs">All Samples</text>
<line x1="144.90" y1="602.55" x2="148.50" y2="602.55" stroke="#383838" stroke-width="1.4" />
<text transform="rotate(0.05 33.27 608.20)" x="33.27" y="608.20" font-size="16.42" fill="#4d4d4d" textLength="51.21" lengthAdjust="spacingAndGlyphs">Female</text>
<text transform="rotate(0.05 107.96 608.20)" x="107.96" y="608.20" font-size="16.42" fill="#4d4d4d" textLength="33.58" lengthAdjust="spacingAndGlyphs">Male</text>
<path d="M91.25,603.30 H101.75 M93.95,601.15 L91.45,603.30 L93.95,605.45 M99.05,601.15 L101.55,603.30 L99.05,605.45" stroke="#4d4d4d" stroke-width="1.0" fill="none"/>
<line x1="144.90" y1="618.53" x2="148.50" y2="618.53" stroke="#383838" stroke-width="1.4" />
<text transform="rotate(0.05 -0.04 624.18)" x="-0.04" y="624.18" font-size="16.42" fill="#4d4d4d" textLength="33.57" lengthAdjust="spacingAndGlyphs">MSS</text>
<text transform="rotate(0.05 56.46 624.18)" x="56.46" y="624.18" font-size="16.42" fill="#4d4d4d" textLength="85.15" lengthAdjust="spacingAndGlyphs">MSI/HYPER</text>
<path d="M40.25,619.28 H50.65 M42.95,617.13 L40.45,619.28 L42.95,621.43 M47.95,617.13 L50.45,619.28 L47.95,621.43" stroke="#4d4d4d" stroke-width="1.0" fill="none"/>
<line x1="144.90" y1="634.51" x2="148.50" y2="634.51" stroke="#383838" stroke-width="1.4" />
<text transform="rotate(0.05 87.89 640.16)" x="87.89" y="640.16" font-size="16.42" fill="#4d4d4d" textLength="17.45" lengthAdjust="spacingAndGlyphs">I/II</text>
<text transform="rotate(0.05 129.22 640.16)" x="129.22" y="640.16" font-size="16.42" fill="#4d4d4d" textLength="12.82" lengthAdjust="spacingAndGlyphs">III</text>
<path d="M111.75,635.26 H122.45 M114.45,633.11 L111.95,635.26 L114.45,637.41 M119.75,633.11 L122.25,635.26 L119.75,637.41" stroke="#4d4d4d" stroke-width="1.0" fill="none"/>
<line x1="144.90" y1="650.49" x2="148.50" y2="650.49" stroke="#383838" stroke-width="1.4" />
<text transform="rotate(0.05 86.50 656.14)" x="86.50" y="656.14" font-size="16.42" fill="#4d4d4d" textLength="17.33" lengthAdjust="spacingAndGlyphs">I/II</text>
<text transform="rotate(0.05 125.87 656.14)" x="125.87" y="656.14" font-size="16.42" fill="#4d4d4d" textLength="15.01" lengthAdjust="spacingAndGlyphs">IV</text>
<path d="M110.65,651.24 H121.55 M113.35,649.09 L110.85,651.24 L113.35,653.39 M118.85,649.09 L121.35,651.24 L118.85,653.39" stroke="#4d4d4d" stroke-width="1.0" fill="none"/>
<line x1="144.90" y1="666.47" x2="148.50" y2="666.47" stroke="#383838" stroke-width="1.4" />
<text transform="rotate(0.05 87.03 672.12)" x="87.03" y="672.12" font-size="16.42" fill="#4d4d4d" textLength="18.16" lengthAdjust="spacingAndGlyphs">I/II</text>
<text transform="rotate(0.05 128.35 672.12)" x="128.35" y="672.12" font-size="16.42" fill="#4d4d4d" textLength="14.05" lengthAdjust="spacingAndGlyphs">M</text>
<path d="M111.65,667.22 H122.35 M114.35,665.07 L111.85,667.22 L114.35,669.37 M119.65,665.07 L122.15,667.22 L119.65,669.37" stroke="#4d4d4d" stroke-width="1.0" fill="none"/>
<line x1="144.90" y1="682.45" x2="148.50" y2="682.45" stroke="#383838" stroke-width="1.4" />
<text transform="rotate(0.05 90.24 688.10)" x="90.24" y="688.10" font-size="16.42" fill="#4d4d4d" textLength="14.49" lengthAdjust="spacingAndGlyphs">III</text>
<text transform="rotate(0.05 127.62 688.10)" x="127.62" y="688.10" font-size="16.42" fill="#4d4d4d" textLength="13.45" lengthAdjust="spacingAndGlyphs">IV</text>
<path d="M110.35,683.20 H121.35 M113.05,681.05 L110.55,683.20 L113.05,685.35 M118.65,681.05 L121.15,683.20 L118.65,685.35" stroke="#4d4d4d" stroke-width="1.0" fill="none"/>
<line x1="144.90" y1="698.43" x2="148.50" y2="698.43" stroke="#383838" stroke-width="1.4" />
<text transform="rotate(0.05 91.40 704.08)" x="91.40" y="704.08" font-size="16.42" fill="#4d4d4d" textLength="13.85" lengthAdjust="spacingAndGlyphs">III</text>
<text transform="rotate(0.05 128.35 704.08)" x="128.35" y="704.08" font-size="16.42" fill="#4d4d4d" textLength="14.05" lengthAdjust="spacingAndGlyphs">M</text>
<path d="M111.45,699.18 H122.35 M114.15,697.03 L111.65,699.18 L114.15,701.33 M119.65,697.03 L122.15,699.18 L119.65,701.33" stroke="#4d4d4d" stroke-width="1.0" fill="none"/>
<line x1="144.90" y1="714.41" x2="148.50" y2="714.41" stroke="#383838" stroke-width="1.4" />
<text transform="rotate(0.05 90.91 720.06)" x="90.91" y="720.06" font-size="16.42" fill="#4d4d4d" textLength="13.56" lengthAdjust="spacingAndGlyphs">IV</text>
<text transform="rotate(0.05 128.35 720.06)" x="128.35" y="720.06" font-size="16.42" fill="#4d4d4d" textLength="14.05" lengthAdjust="spacingAndGlyphs">M</text>
<path d="M111.65,715.16 H122.35 M114.35,713.01 L111.85,715.16 L114.35,717.31 M119.65,713.01 L122.15,715.16 L119.65,717.31" stroke="#4d4d4d" stroke-width="1.0" fill="none"/>
<rect x="148.50" y="731.40" width="135.50" height="130.00" fill="#f2f2f2" />
<line x1="182.20" y1="731.40" x2="182.20" y2="861.40" stroke="#fff" stroke-width="0.65" />
<line x1="217.00" y1="731.40" x2="217.00" y2="861.40" stroke="#fff" stroke-width="0.65" />
<line x1="251.80" y1="731.40" x2="251.80" y2="861.40" stroke="#fff" stroke-width="0.65" />
<line x1="164.80" y1="731.40" x2="164.80" y2="861.40" stroke="#fff" stroke-width="1.3" />
<line x1="199.60" y1="731.40" x2="199.60" y2="861.40" stroke="#fff" stroke-width="1.3" />
<line x1="234.40" y1="731.40" x2="234.40" y2="861.40" stroke="#fff" stroke-width="1.3" />
<line x1="269.20" y1="731.40" x2="269.20" y2="861.40" stroke="#fff" stroke-width="1.3" />
<line x1="148.50" y1="740.30" x2="284.00" y2="740.30" stroke="#fff" stroke-width="1.3" />
<line x1="148.50" y1="756.31" x2="284.00" y2="756.31" stroke="#fff" stroke-width="1.3" />
<line x1="148.50" y1="772.32" x2="284.00" y2="772.32" stroke="#fff" stroke-width="1.3" />
<line x1="148.50" y1="788.33" x2="284.00" y2="788.33" stroke="#fff" stroke-width="1.3" />
<line x1="148.50" y1="804.34" x2="284.00" y2="804.34" stroke="#fff" stroke-width="1.3" />
<line x1="148.50" y1="820.35" x2="284.00" y2="820.35" stroke="#fff" stroke-width="1.3" />
<line x1="148.50" y1="836.36" x2="284.00" y2="836.36" stroke="#fff" stroke-width="1.3" />
<line x1="148.50" y1="852.37" x2="284.00" y2="852.37" stroke="#fff" stroke-width="1.3" />
<line x1="199.60" y1="861.40" x2="199.60" y2="731.40" stroke="#000" stroke-width="1.2" stroke-dasharray="5.45 5.45"/>
<rect x="182.20" y="736.25" width="27.80" height="8.10" fill="#bebebe" />
<circle cx="195.90" cy="740.30" r="2.95" fill="#000"/>
<rect x="154.60" y="752.26" width="38.30" height="8.10" fill="#da7b2f" />
<circle cx="173.80" cy="756.31" r="2.95" fill="#000"/>
<rect x="183.30" y="768.27" width="41.70" height="8.10" fill="#bebebe" />
<circle cx="204.00" cy="772.32" r="2.95" fill="#000"/>
<rect x="179.80" y="784.28" width="47.20" height="8.10" fill="#bebebe" />
<circle cx="203.40" cy="788.33" r="2.95" fill="#000"/>
<rect x="175.80" y="800.29" width="46.30" height="8.10" fill="#bebebe" />
<circle cx="198.80" cy="804.34" r="2.95" fill="#000"/>
<rect x="220.90" y="816.30" width="42.90" height="8.10" fill="#c6312b" />
<circle cx="242.10" cy="820.35" r="2.95" fill="#000"/>
<rect x="231.60" y="832.31" width="46.30" height="8.10" fill="#c6312b" />
<circle cx="254.80" cy="836.36" r="2.95" fill="#000"/>
<rect x="189.90" y="848.32" width="44.30" height="8.10" fill="#bebebe" />
<circle cx="212.10" cy="852.37" r="2.95" fill="#000"/>
<rect x="148.50" y="731.40" width="135.50" height="130.00" fill="none" stroke="#8e8e8e" stroke-width="1.05"/>
<line x1="164.80" y1="861.40" x2="164.80" y2="865.00" stroke="#383838" stroke-width="1.4" />
<text transform="rotate(0.05 155.14 876.10)" x="155.14" y="876.10" font-size="11.20" fill="#4d4d4d" textLength="19.30" lengthAdjust="spacingAndGlyphs">-0.5</text>
<line x1="199.60" y1="861.40" x2="199.60" y2="865.00" stroke="#383838" stroke-width="1.4" />
<text transform="rotate(0.05 191.79 876.10)" x="191.79" y="876.10" font-size="11.20" fill="#4d4d4d" textLength="15.57" lengthAdjust="spacingAndGlyphs">0.0</text>
<line x1="234.40" y1="861.40" x2="234.40" y2="865.00" stroke="#383838" stroke-width="1.4" />
<text transform="rotate(0.05 226.62 876.10)" x="226.62" y="876.10" font-size="11.20" fill="#4d4d4d" textLength="15.57" lengthAdjust="spacingAndGlyphs">0.5</text>
<line x1="269.20" y1="861.40" x2="269.20" y2="865.00" stroke="#383838" stroke-width="1.4" />
<text transform="rotate(0.05 261.19 876.10)" x="261.19" y="876.10" font-size="11.20" fill="#4d4d4d" textLength="15.57" lengthAdjust="spacingAndGlyphs">1.0</text>
<rect x="291.50" y="731.40" width="135.50" height="130.00" fill="#f2f2f2" />
<line x1="299.50" y1="731.40" x2="299.50" y2="861.40" stroke="#fff" stroke-width="0.65" />
<line x1="325.30" y1="731.40" x2="325.30" y2="861.40" stroke="#fff" stroke-width="0.65" />
<line x1="351.10" y1="731.40" x2="351.10" y2="861.40" stroke="#fff" stroke-width="0.65" />
<line x1="376.90" y1="731.40" x2="376.90" y2="861.40" stroke="#fff" stroke-width="0.65" />
<line x1="402.70" y1="731.40" x2="402.70" y2="861.40" stroke="#fff" stroke-width="0.65" />
<line x1="312.40" y1="731.40" x2="312.40" y2="861.40" stroke="#fff" stroke-width="1.3" />
<line x1="338.20" y1="731.40" x2="338.20" y2="861.40" stroke="#fff" stroke-width="1.3" />
<line x1="364.00" y1="731.40" x2="364.00" y2="861.40" stroke="#fff" stroke-width="1.3" />
<line x1="389.80" y1="731.40" x2="389.80" y2="861.40" stroke="#fff" stroke-width="1.3" />
<line x1="415.60" y1="731.40" x2="415.60" y2="861.40" stroke="#fff" stroke-width="1.3" />
<line x1="291.50" y1="740.30" x2="427.00" y2="740.30" stroke="#fff" stroke-width="1.3" />
<line x1="291.50" y1="756.31" x2="427.00" y2="756.31" stroke="#fff" stroke-width="1.3" />
<line x1="291.50" y1="772.32" x2="427.00" y2="772.32" stroke="#fff" stroke-width="1.3" />
<line x1="291.50" y1="788.33" x2="427.00" y2="788.33" stroke="#fff" stroke-width="1.3" />
<line x1="291.50" y1="804.34" x2="427.00" y2="804.34" stroke="#fff" stroke-width="1.3" />
<line x1="291.50" y1="820.35" x2="427.00" y2="820.35" stroke="#fff" stroke-width="1.3" />
<line x1="291.50" y1="836.36" x2="427.00" y2="836.36" stroke="#fff" stroke-width="1.3" />
<line x1="291.50" y1="852.37" x2="427.00" y2="852.37" stroke="#fff" stroke-width="1.3" />
<line x1="364.00" y1="861.40" x2="364.00" y2="731.40" stroke="#000" stroke-width="1.2" stroke-dasharray="5.45 5.45"/>
<rect x="349.00" y="736.25" width="45.70" height="8.10" fill="#bebebe" />
<circle cx="371.60" cy="740.30" r="2.95" fill="#000"/>
<rect x="333.70" y="752.26" width="59.60" height="8.10" fill="#bebebe" />
<circle cx="363.50" cy="756.31" r="2.95" fill="#000"/>
<rect x="303.10" y="768.27" width="71.90" height="8.10" fill="#bebebe" />
<circle cx="338.70" cy="772.32" r="2.95" fill="#000"/>
<rect x="314.60" y="784.28" width="77.70" height="8.10" fill="#bebebe" />
<circle cx="353.50" cy="788.33" r="2.95" fill="#000"/>
<rect x="336.30" y="800.29" width="84.60" height="8.10" fill="#bebebe" />
<circle cx="378.60" cy="804.34" r="2.95" fill="#000"/>
<rect x="348.80" y="816.30" width="66.10" height="8.10" fill="#bebebe" />
<circle cx="381.70" cy="820.35" r="2.95" fill="#000"/>
<rect x="323.60" y="832.31" width="79.80" height="8.10" fill="#bebebe" />
<circle cx="363.50" cy="836.36" r="2.95" fill="#000"/>
<rect x="308.50" y="848.32" width="74.60" height="8.10" fill="#bebebe" />
<circle cx="345.40" cy="852.37" r="2.95" fill="#000"/>
<rect x="291.50" y="731.40" width="135.50" height="130.00" fill="none" stroke="#8e8e8e" stroke-width="1.05"/>
<line x1="312.40" y1="861.40" x2="312.40" y2="865.00" stroke="#383838" stroke-width="1.4" />
<text transform="rotate(0.05 302.71 876.10)" x="302.71" y="876.10" font-size="11.20" fill="#4d4d4d" textLength="19.30" lengthAdjust="spacingAndGlyphs">-1.0</text>
<line x1="338.20" y1="861.40" x2="338.20" y2="865.00" stroke="#383838" stroke-width="1.4" />
<text transform="rotate(0.05 328.54 876.10)" x="328.54" y="876.10" font-size="11.20" fill="#4d4d4d" textLength="19.30" lengthAdjust="spacingAndGlyphs">-0.5</text>
<line x1="364.00" y1="861.40" x2="364.00" y2="865.00" stroke="#383838" stroke-width="1.4" />
<text transform="rotate(0.05 356.19 876.10)" x="356.19" y="876.10" font-size="11.20" fill="#4d4d4d" textLength="15.57" lengthAdjust="spacingAndGlyphs">0.0</text>
<line x1="389.80" y1="861.40" x2="389.80" y2="865.00" stroke="#383838" stroke-width="1.4" />
<text transform="rotate(0.05 382.02 876.10)" x="382.02" y="876.10" font-size="11.20" fill="#4d4d4d" textLength="15.57" lengthAdjust="spacingAndGlyphs">0.5</text>
<line x1="415.60" y1="861.40" x2="415.60" y2="865.00" stroke="#383838" stroke-width="1.4" />
<text transform="rotate(0.05 407.59 876.10)" x="407.59" y="876.10" font-size="11.20" fill="#4d4d4d" textLength="15.57" lengthAdjust="spacingAndGlyphs">1.0</text>
<rect x="434.50" y="731.40" width="136.00" height="130.00" fill="#f2f2f2" />
<line x1="447.10" y1="731.40" x2="447.10" y2="861.40" stroke="#fff" stroke-width="0.65" />
<line x1="484.10" y1="731.40" x2="484.10" y2="861.40" stroke="#fff" stroke-width="0.65" />
<line x1="521.10" y1="731.40" x2="521.10" y2="861.40" stroke="#fff" stroke-width="0.65" />
<line x1="558.10" y1="731.40" x2="558.10" y2="861.40" stroke="#fff" stroke-width="0.65" />
<line x1="465.60" y1="731.40" x2="465.60" y2="861.40" stroke="#fff" stroke-width="1.3" />
<line x1="502.60" y1="731.40" x2="502.60" y2="861.40" stroke="#fff" stroke-width="1.3" />
<line x1="539.60" y1="731.40" x2="539.60" y2="861.40" stroke="#fff" stroke-width="1.3" />
<line x1="434.50" y1="740.30" x2="570.50" y2="740.30" stroke="#fff" stroke-width="1.3" />
<line x1="434.50" y1="756.31" x2="570.50" y2="756.31" stroke="#fff" stroke-width="1.3" />
<line x1="434.50" y1="772.32" x2="570.50" y2="772.32" stroke="#fff" stroke-width="1.3" />
<line x1="434.50" y1="788.33" x2="570.50" y2="788.33" stroke="#fff" stroke-width="1.3" />
<line x1="434.50" y1="804.34" x2="570.50" y2="804.34" stroke="#fff" stroke-width="1.3" />
<line x1="434.50" y1="820.35" x2="570.50" y2="820.35" stroke="#fff" stroke-width="1.3" />
<line x1="434.50" y1="836.36" x2="570.50" y2="836.36" stroke="#fff" stroke-width="1.3" />
<line x1="434.50" y1="852.37" x2="570.50" y2="852.37" stroke="#fff" stroke-width="1.3" />
<line x1="502.60" y1="861.40" x2="502.60" y2="731.40" stroke="#000" stroke-width="1.2" stroke-dasharray="5.45 5.45"/>
<rect x="483.00" y="736.25" width="32.00" height="8.10" fill="#bebebe" />
<circle cx="498.90" cy="740.30" r="2.95" fill="#000"/>
<rect x="524.70" y="752.26" width="39.20" height="8.10" fill="#c6312b" />
<circle cx="544.40" cy="756.31" r="2.95" fill="#000"/>
<rect x="491.40" y="768.27" width="40.70" height="8.10" fill="#bebebe" />
<circle cx="511.60" cy="772.32" r="2.95" fill="#000"/>
<rect x="451.10" y="784.28" width="79.60" height="8.10" fill="#bebebe" />
<circle cx="490.80" cy="788.33" r="2.95" fill="#000"/>
<rect x="443.10" y="800.29" width="77.10" height="8.10" fill="#bebebe" />
<circle cx="481.70" cy="804.34" r="2.95" fill="#000"/>
<rect x="477.90" y="816.30" width="48.20" height="8.10" fill="#bebebe" />
<circle cx="501.90" cy="820.35" r="2.95" fill="#000"/>
<rect x="485.00" y="832.31" width="46.70" height="8.10" fill="#bebebe" />
<circle cx="508.10" cy="836.36" r="2.95" fill="#000"/>
<rect x="485.00" y="848.32" width="47.70" height="8.10" fill="#bebebe" />
<circle cx="508.90" cy="852.37" r="2.95" fill="#000"/>
<rect x="434.50" y="731.40" width="136.00" height="130.00" fill="none" stroke="#8e8e8e" stroke-width="1.05"/>
<line x1="465.60" y1="861.40" x2="465.60" y2="865.00" stroke="#383838" stroke-width="1.4" />
<text transform="rotate(0.05 455.94 876.10)" x="455.94" y="876.10" font-size="11.20" fill="#4d4d4d" textLength="19.30" lengthAdjust="spacingAndGlyphs">-2.5</text>
<line x1="502.60" y1="861.40" x2="502.60" y2="865.00" stroke="#383838" stroke-width="1.4" />
<text transform="rotate(0.05 494.79 876.10)" x="494.79" y="876.10" font-size="11.20" fill="#4d4d4d" textLength="15.57" lengthAdjust="spacingAndGlyphs">0.0</text>
<line x1="539.60" y1="861.40" x2="539.60" y2="865.00" stroke="#383838" stroke-width="1.4" />
<text transform="rotate(0.05 531.76 876.10)" x="531.76" y="876.10" font-size="11.20" fill="#4d4d4d" textLength="15.57" lengthAdjust="spacingAndGlyphs">2.5</text>
<rect x="570.5" y="731.40" width="24.2" height="130.00" fill="#d9d9d9" stroke="#8e8e8e" stroke-width="1.05"/>
<text transform="translate(577.60,746.88) rotate(90.05)" x="0" y="0" font-size="15.08" fill="#1a1a1a" textLength="98.63" lengthAdjust="spacingAndGlyphs">Primary Tumors</text>
<line x1="144.90" y1="740.30" x2="148.50" y2="740.30" stroke="#383838" stroke-width="1.4" />
<text transform="rotate(0.05 33.27 745.95)" x="33.27" y="745.95" font-size="16.42" fill="#4d4d4d" textLength="51.21" lengthAdjust="spacingAndGlyphs">Female</text>
<text transform="rotate(0.05 107.96 745.95)" x="107.96" y="745.95" font-size="16.42" fill="#4d4d4d" textLength="33.58" lengthAdjust="spacingAndGlyphs">Male</text>
<path d="M91.25,741.05 H101.75 M93.95,738.90 L91.45,741.05 L93.95,743.20 M99.05,738.90 L101.55,741.05 L99.05,743.20" stroke="#4d4d4d" stroke-width="1.0" fill="none"/>
<line x1="144.90" y1="756.31" x2="148.50" y2="756.31" stroke="#383838" stroke-width="1.4" />
<text transform="rotate(0.05 -0.04 761.96)" x="-0.04" y="761.96" font-size="16.42" fill="#4d4d4d" textLength="33.57" lengthAdjust="spacingAndGlyphs">MSS</text>
<text transform="rotate(0.05 56.46 761.96)" x="56.46" y="761.96" font-size="16.42" fill="#4d4d4d" textLength="85.15" lengthAdjust="spacingAndGlyphs">MSI/HYPER</text>
<path d="M40.25,757.06 H50.65 M42.95,754.91 L40.45,757.06 L42.95,759.21 M47.95,754.91 L50.45,757.06 L47.95,759.21" stroke="#4d4d4d" stroke-width="1.0" fill="none"/>
<line x1="144.90" y1="772.32" x2="148.50" y2="772.32" stroke="#383838" stroke-width="1.4" />
<text transform="rotate(0.05 87.89 777.97)" x="87.89" y="777.97" font-size="16.42" fill="#4d4d4d" textLength="17.45" lengthAdjust="spacingAndGlyphs">I/II</text>
<text transform="rotate(0.05 129.22 777.97)" x="129.22" y="777.97" font-size="16.42" fill="#4d4d4d" textLength="12.82" lengthAdjust="spacingAndGlyphs">III</text>
<path d="M111.75,773.07 H122.45 M114.45,770.92 L111.95,773.07 L114.45,775.22 M119.75,770.92 L122.25,773.07 L119.75,775.22" stroke="#4d4d4d" stroke-width="1.0" fill="none"/>
<line x1="144.90" y1="788.33" x2="148.50" y2="788.33" stroke="#383838" stroke-width="1.4" />
<text transform="rotate(0.05 86.50 793.98)" x="86.50" y="793.98" font-size="16.42" fill="#4d4d4d" textLength="17.33" lengthAdjust="spacingAndGlyphs">I/II</text>
<text transform="rotate(0.05 125.87 793.98)" x="125.87" y="793.98" font-size="16.42" fill="#4d4d4d" textLength="15.01" lengthAdjust="spacingAndGlyphs">IV</text>
<path d="M110.65,789.08 H121.55 M113.35,786.93 L110.85,789.08 L113.35,791.23 M118.85,786.93 L121.35,789.08 L118.85,791.23" stroke="#4d4d4d" stroke-width="1.0" fill="none"/>
<line x1="144.90" y1="804.34" x2="148.50" y2="804.34" stroke="#383838" stroke-width="1.4" />
<text transform="rotate(0.05 90.24 809.99)" x="90.24" y="809.99" font-size="16.42" fill="#4d4d4d" textLength="14.49" lengthAdjust="spacingAndGlyphs">III</text>
<text transform="rotate(0.05 127.62 809.99)" x="127.62" y="809.99" font-size="16.42" fill="#4d4d4d" textLength="13.45" lengthAdjust="spacingAndGlyphs">IV</text>
<path d="M110.35,805.09 H121.35 M113.05,802.94 L110.55,805.09 L113.05,807.24 M118.65,802.94 L121.15,805.09 L118.65,807.24" stroke="#4d4d4d" stroke-width="1.0" fill="none"/>
<line x1="144.90" y1="820.35" x2="148.50" y2="820.35" stroke="#383838" stroke-width="1.4" />
<text transform="rotate(0.05 40.67 826.00)" x="40.67" y="826.00" font-size="16.42" fill="#4d4d4d" textLength="35.86" lengthAdjust="spacingAndGlyphs">DFCI</text>
<text transform="rotate(0.05 100.41 826.00)" x="100.41" y="826.00" font-size="16.42" fill="#4d4d4d" textLength="40.53" lengthAdjust="spacingAndGlyphs">TCGA</text>
<path d="M82.85,821.10 H93.35 M85.55,818.95 L83.05,821.10 L85.55,823.25 M90.65,818.95 L93.15,821.10 L90.65,823.25" stroke="#4d4d4d" stroke-width="1.0" fill="none"/>
<line x1="144.90" y1="836.36" x2="148.50" y2="836.36" stroke="#383838" stroke-width="1.4" />
<text transform="rotate(0.05 28.91 842.01)" x="28.91" y="842.01" font-size="16.42" fill="#4d4d4d" textLength="34.56" lengthAdjust="spacingAndGlyphs">DFCI</text>
<text transform="rotate(0.05 87.71 842.01)" x="87.71" y="842.01" font-size="16.42" fill="#4d4d4d" textLength="53.73" lengthAdjust="spacingAndGlyphs">MSKCC</text>
<path d="M70.45,837.11 H80.95 M73.15,834.96 L70.65,837.11 L73.15,839.26 M78.25,834.96 L80.75,837.11 L78.25,839.26" stroke="#4d4d4d" stroke-width="1.0" fill="none"/>
<line x1="144.90" y1="852.37" x2="148.50" y2="852.37" stroke="#383838" stroke-width="1.4" />
<text transform="rotate(0.05 23.02 858.02)" x="23.02" y="858.02" font-size="16.42" fill="#4d4d4d" textLength="39.12" lengthAdjust="spacingAndGlyphs">TCGA</text>
<text transform="rotate(0.05 87.71 858.02)" x="87.71" y="858.02" font-size="16.42" fill="#4d4d4d" textLength="53.73" lengthAdjust="spacingAndGlyphs">MSKCC</text>
<path d="M70.45,853.12 H80.95 M73.15,850.97 L70.65,853.12 L73.15,855.27 M78.25,850.97 L80.75,853.12 L78.25,855.27" stroke="#4d4d4d" stroke-width="1.0" fill="none"/>
<rect x="148.50" y="566.4" width="135.50" height="26.80" fill="#d9d9d9" stroke="#8e8e8e" stroke-width="1.05"/>
<text transform="rotate(0.05 194.96 585.70)" x="194.96" y="585.70" font-size="17.33" fill="#1a1a1a" font-style="italic" textLength="44.12" lengthAdjust="spacingAndGlyphs">KRAS</text>
<rect x="291.50" y="566.4" width="135.50" height="26.80" fill="#d9d9d9" stroke="#8e8e8e" stroke-width="1.05"/>
<text transform="rotate(0.05 337.51 585.70)" x="337.51" y="585.70" font-size="17.33" fill="#1a1a1a" font-style="italic" textLength="45.01" lengthAdjust="spacingAndGlyphs">NRAS</text>
<rect x="434.50" y="566.4" width="136.00" height="26.80" fill="#d9d9d9" stroke="#8e8e8e" stroke-width="1.05"/>
<text transform="rotate(0.05 480.76 585.70)" x="480.76" y="585.70" font-size="17.33" fill="#1a1a1a" font-style="italic" textLength="45.01" lengthAdjust="spacingAndGlyphs">HRAS</text>
<text transform="rotate(0.05 313.24 892.50)" x="313.24" y="892.50" font-size="14.00" fill="#000" textLength="92.36" lengthAdjust="spacingAndGlyphs">log Odds Ratio</text>
<text transform="rotate(0.05 616.42 673.10)" x="616.42" y="673.10" font-size="14.28" fill="#000" textLength="57.29" lengthAdjust="spacingAndGlyphs">Sig Level</text>
<rect x="616.70" y="682.30" width="22.20" height="110.40" fill="#f2f2f2" />
<rect x="618.40" y="689.50" width="17.70" height="7.90" fill="#bebebe" />
<text transform="rotate(0.05 645.27 697.45)" x="645.27" y="697.45" font-size="11.00" fill="#000" textLength="15.28" lengthAdjust="spacingAndGlyphs">NS</text>
<rect x="618.40" y="711.70" width="17.70" height="7.90" fill="#e6b142" />
<text transform="rotate(0.05 645.60 719.65)" x="645.60" y="719.65" font-size="11.00" fill="#000" textLength="27.83" lengthAdjust="spacingAndGlyphs">&lt;0.05</text>
<rect x="618.40" y="733.90" width="17.70" height="7.90" fill="#da7b2f" />
<text transform="rotate(0.05 645.60 741.85)" x="645.60" y="741.85" font-size="11.00" fill="#000" textLength="27.83" lengthAdjust="spacingAndGlyphs">&lt;0.01</text>
<rect x="618.40" y="756.10" width="17.70" height="7.90" fill="#dc5531" />
<text transform="rotate(0.05 645.60 764.05)" x="645.60" y="764.05" font-size="11.00" fill="#000" textLength="33.95" lengthAdjust="spacingAndGlyphs">&lt;0.001</text>
<rect x="618.40" y="778.30" width="17.70" height="7.90" fill="#c6312b" />
<text transform="rotate(0.05 645.60 786.25)" x="645.60" y="786.25" font-size="11.00" fill="#000" textLength="40.07" lengthAdjust="spacingAndGlyphs">&lt;0.0001</text>
</svg>
</body></html>
